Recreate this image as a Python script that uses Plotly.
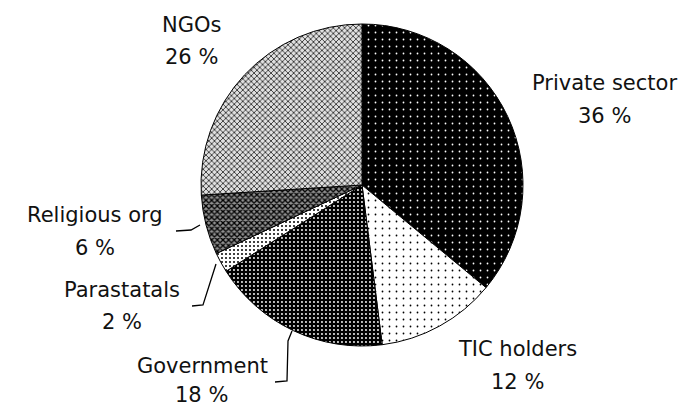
import plotly.graph_objects as go

# page body adds an 8px margin, so the figure is drawn 8px smaller and offset
OFF = 8
W, H = 688 - OFF, 407 - OFF

categories = ["Private sector", "TIC holders", "Government", "Parastatals", "Religious org", "NGOs"]
shares = [36, 12, 18, 2, 6, 26]
share_labels = ["36 %", "12 %", "18 %", "2 %", "6 %", "26 %"]

# label centres in reference-window pixels (name line, value line)
label_pos = {
    "Private sector": ((604, 83), (604, 116)),
    "TIC holders": ((517, 349), (517, 382)),
    "Government": ((202, 366), (201, 395)),
    "Parastatals": ((122, 290), (122, 322)),
    "Religious org": ((95, 215), (95, 248)),
    "NGOs": ((191, 25), (191, 57)),
}

leaders = [
    [(176, 231), (191, 230), (200, 225)],
    [(192, 306), (203, 305), (216, 264)],
    [(275, 382), (287, 381), (288, 341), (292, 331)],
]

patterns = dict(
    shape=[".", ".", ".", ".", "x", "x"],
    fgcolor=["white", "black", "white", "black", "black", "#333333"],
    bgcolor=["black", "white", "black", "white", "#909090", "#e0e0e0"],
    size=[7, 7, 4, 4, 4, 4],
    solidity=[0.05, 0.05, 0.18, 0.2, 0.55, 0.4],
)

def px(x, y):
    return (x - OFF) / W, 1 - (y - OFF) / H

cx, cy, r = 362, 185, 161
x0, yt = px(cx - r, cy - r)
x1, yb = px(cx + r, cy + r)

fig = go.Figure(go.Pie(
    labels=categories,
    values=shares,
    sort=False,
    direction="clockwise",
    rotation=0,
    textinfo="none",
    hoverinfo="label+percent",
    marker=dict(colors=patterns["bgcolor"], line=dict(color="black", width=1), pattern=patterns),
    domain=dict(x=[x0, x1], y=[yb, yt]),
    showlegend=False,
))

font = dict(family="DejaVu Sans", size=21, color="#111111")
anns = []
for cat, lab in zip(categories, share_labels):
    (nx, ny), (vx, vy) = label_pos[cat]
    for txt, (tx, ty) in ((cat, (nx, ny)), (lab, (vx, vy))):
        ax, ay = px(tx, ty)
        anns.append(dict(x=ax, y=ay, xref="paper", yref="paper", text=txt, showarrow=False,
                         xanchor="center", yanchor="middle", font=font))

shapes = []
for pts in leaders:
    path = "M " + " L ".join(f"{px(x, y)[0]},{px(x, y)[1]}" for x, y in pts)
    shapes.append(dict(type="path", path=path, xref="paper", yref="paper",
                       line=dict(color="black", width=1.3)))

fig.update_layout(
    width=W, height=H,
    margin=dict(l=0, r=0, t=0, b=0),
    paper_bgcolor="white", plot_bgcolor="white",
    annotations=anns, shapes=shapes,
)

fig.write_html("out.html")
